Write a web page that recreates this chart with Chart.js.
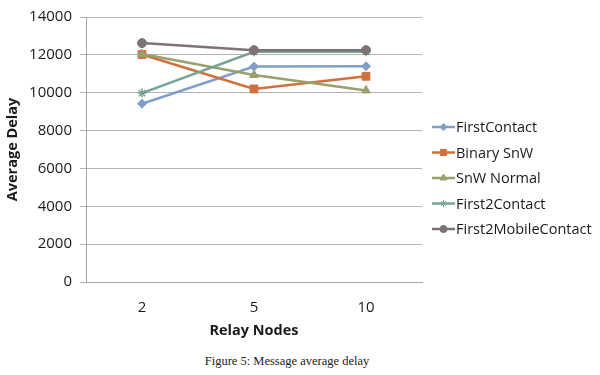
<!DOCTYPE html>
<html>
<head>
<meta charset="utf-8">
<script src="https://cdn.jsdelivr.net/npm/chart.js@4/dist/chart.umd.min.js"></script>
<style>
  html, body { margin: 0; padding: 0; background: #fff; }
  #wrap { position: relative; width: 600px; height: 375px; }
  #caption { position: absolute; left: 0; width: 574px; top: 354px; text-align: center;
    font-family: "Liberation Serif", serif; font-size: 12.5px; color: #222; }
</style>
</head>
<body>
<div id="wrap">
  <canvas id="chart" width="600" height="346"></canvas>
  <div id="caption">Figure 5: Message average delay</div>
</div>
<script>
const relayNodes = ['2', '5', '10'];
const firstContact = [9420, 11380, 11400];
const binarySnW = [12020, 10200, 10870];
const snwNormal = [12040, 10940, 10120];
const first2Contact = [9980, 12160, 12160];
const first2MobileContact = [12620, 12250, 12250];

const seriesNames = ['FirstContact', 'Binary SnW', 'SnW Normal', 'First2Contact', 'First2MobileContact'];
const seriesColors = ['#7f9fc9', '#d1703a', '#9a9f6d', '#76a396', '#7e7275'];
const seriesPoints = ['rectRot', 'rect', 'triangle', 'star', 'circle'];
const seriesRadius = [4.5, 5.5, 5, 4.5, 4.5];
const seriesData = [firstContact, binarySnW, snwNormal, first2Contact, first2MobileContact];

const fontFamily = '"Open Sans", sans-serif';

// legend drawn by hand so each entry shows a line with its marker
const lineLegend = {
    id: 'lineLegend',
    afterDraw(chart) {
        const ctx = chart.ctx;
        chart.data.datasets.forEach((ds, i) => {
            const y = 127 + i * 25.5;
            ctx.save();
            ctx.strokeStyle = ds.borderColor;
            ctx.lineWidth = 2.5;
            ctx.beginPath();
            ctx.moveTo(432, y);
            ctx.lineTo(455, y);
            ctx.stroke();
            ctx.fillStyle = ds.pointBackgroundColor;
            ctx.strokeStyle = ds.pointBorderColor;
            ctx.lineWidth = 1;
            Chart.helpers.drawPoint(ctx, { pointStyle: ds.pointStyle, radius: ds.pointRadius * 0.8, borderWidth: 1 }, 443.5, y);
            ctx.fillStyle = '#1a1a1a';
            ctx.font = '14.5px ' + fontFamily;
            ctx.textBaseline = 'middle';
            ctx.fillText(ds.label, 456, y + 1);
            ctx.restore();
        });
    }
};

new Chart(document.getElementById('chart'), {
    type: 'line',
    data: {
        labels: relayNodes,
        datasets: seriesNames.map((name, i) => ({
            label: name,
            data: seriesData[i],
            borderColor: seriesColors[i],
            backgroundColor: seriesColors[i],
            pointBackgroundColor: seriesColors[i],
            pointBorderColor: seriesColors[i],
            pointStyle: seriesPoints[i],
            pointRadius: seriesRadius[i],
            pointBorderWidth: i === 3 ? 1.5 : 1,
            borderWidth: 2.5,
            tension: 0,
            order: 5 - i
        }))
    },
    options: {
        responsive: false,
        animation: false,
        layout: { padding: { top: 5, right: 178, left: 0, bottom: 0 } },
        plugins: {
            legend: { display: false },
            tooltip: { enabled: false }
        },
        scales: {
            x: {
                offset: true,
                afterFit: (scale) => { scale.height = 64; },
                grid: { display: false, drawTicks: false, offset: true },
                border: { color: '#a6a6a6', width: 1 },
                ticks: { padding: 17, color: '#1a1a1a', font: { family: fontFamily, size: 15 } },
                title: {
                    display: true,
                    text: 'Relay Nodes',
                    color: '#1a1a1a',
                    font: { family: fontFamily, size: 14.5, weight: 'bold' },
                    padding: { top: 0, bottom: 6 }
                }
            },
            y: {
                min: 0,
                max: 14000,
                afterFit: (scale) => { scale.width = 86; },
                grid: { color: '#b3b3b3', tickLength: 6 },
                border: { color: '#a6a6a6', width: 1 },
                ticks: {
                    stepSize: 2000,
                    padding: 8,
                    color: '#1a1a1a',
                    font: { family: fontFamily, size: 15 },
                    callback: (value) => String(value)
                },
                title: {
                    display: true,
                    text: 'Average Delay',
                    color: '#1a1a1a',
                    font: { family: fontFamily, size: 14.5, weight: 'bold' },
                    padding: { top: 4, bottom: 0 }
                }
            }
        }
    },
    plugins: [lineLegend]
});
</script>
</body>
</html>
